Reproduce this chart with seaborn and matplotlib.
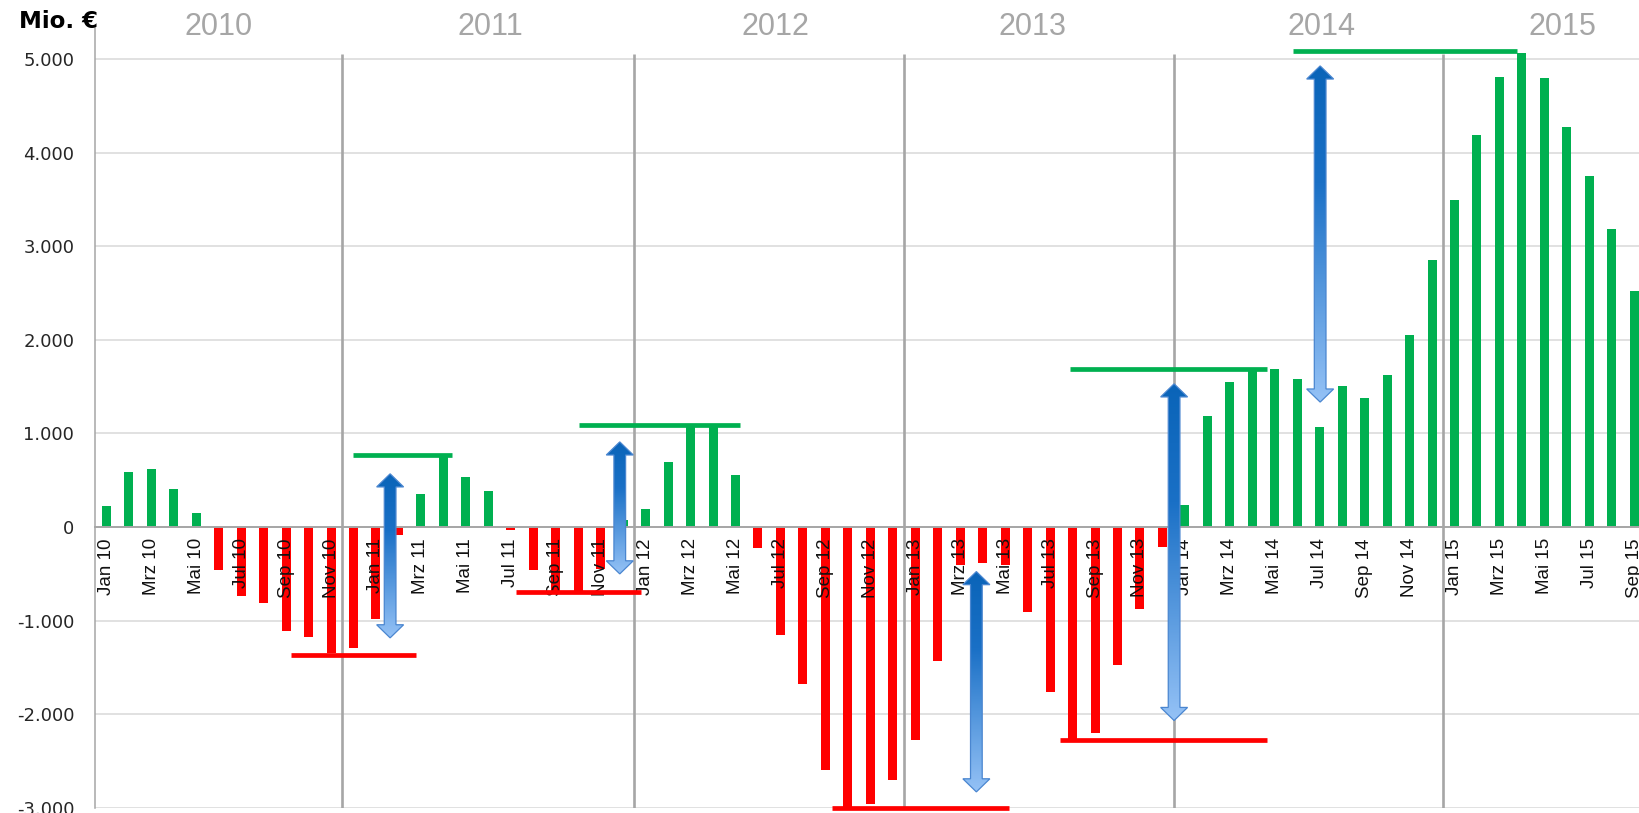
import numpy as np
import pandas as pd
import seaborn as sns
import matplotlib.pyplot as plt
from matplotlib.patches import Polygon
from matplotlib.colors import LinearSegmentedColormap

# monthly values, Mio. EUR, Jan 2010 - Sep 2015
monate = ['Jan', 'Feb', 'Mrz', 'Apr', 'Mai', 'Jun', 'Jul', 'Aug', 'Sep', 'Okt', 'Nov', 'Dez']
jahre = ['10', '11', '12', '13', '14', '15']
werte = [221, 585, 620, 406, 150, -463, -734, -806, -1112, -1169, -1345, -1287,
         -980, -82, 349, 760, 538, 388, -27, -455, -680, -690, -445, 75,
         191, 691, 1065, 1075, 561, -221, -1150, -1679, -2593, -2985, -2960, -2700,
         -2275, -1435, -410, -382, -400, -904, -1760, -2280, -2195, -1468, -875, -210,
         233, 1186, 1551, 1662, 1690, 1579, 1064, 1507, 1380, 1629, 2055, 2848,
         3496, 4183, 4803, 5064, 4792, 4277, 3751, 3180, 2521]
labels = [f'{m} {j}' for j in jahre for m in monate][:len(werte)]

ytick_werte = [-3000, -2000, -1000, 0, 1000, 2000, 3000, 4000, 5000]
ytick_labels = ['-3.000', '-2.000', '-1.000', '0', '1.000', '2.000', '3.000', '4.000', '5.000']

jahr_labels = ['2010', '2011', '2012', '2013', '2014', '2015']
jahr_label_x = [5.0, 17.1, 29.8, 41.2, 54.1, 64.8]
jahr_trenner = [10.5, 23.5, 35.5, 47.5, 59.5]

# hand drawn annotation: (start, end, level)
tief_linien = [(8.21, 13.8, -1365), (18.25, 23.78, -691), (32.3, 40.16, -3000), (42.43, 51.66, -2277)]
hoch_linien = [(10.97, 15.4, 774), (21.02, 28.21, 1093), (42.9, 51.66, 1684), (52.83, 62.78, 5080)]
# double arrows: (x, bottom, top)
pfeile = [(12.63, -1183, 569), (22.85, -500, 910), (38.72, -2828, -475),
          (47.52, -2066, 1530), (54.02, 1335, 4925)]

GRUEN = '#00b050'
ROT = '#ff0000'
GRAU = '#a6a6a6'

sns.set_style('white')
plt.rcParams['font.family'] = ['DejaVu Sans']

df = pd.DataFrame({'monat': labels, 'wert': werte})
df['vorzeichen'] = np.where(df['wert'] >= 0, 'pos', 'neg')

fig = plt.figure(figsize=(16.39, 8.13), dpi=100)
ax = fig.add_axes([95.1 / 1639, 5 / 813, 1 - 95.1 / 1639, 780 / 813])

sns.barplot(data=df, x='monat', y='wert', hue='vorzeichen', order=labels,
            palette={'pos': GRUEN, 'neg': ROT}, dodge=False, width=0.4,
            saturation=1, linewidth=0, errorbar=None, legend=False, ax=ax)

ax.set_xlabel('')
ax.set_ylabel('')
ax.grid(False)
ax.set_axisbelow(False)
for v in ytick_werte:
    ax.axhline(v, color='#d9d9d9', lw=1.1, zorder=0)

for s in ['top', 'right']:
    ax.spines[s].set_visible(False)
ax.spines['left'].set_color(GRAU)
ax.spines['left'].set_linewidth(1.1)
ax.spines['bottom'].set_position(('data', 0))
ax.spines['bottom'].set_color(GRAU)
ax.spines['bottom'].set_linewidth(1.4)

ax.set_xticks(range(0, len(werte), 2))
ax.set_xticklabels(labels[::2], rotation=90, fontsize=13.5, color='#111111',
                   family=['Liberation Sans Narrow', 'Liberation Sans'])
ax.set_xticks(np.arange(-0.5, len(werte), 1), minor=True)
ax.tick_params(axis='x', which='major', length=0, pad=8)
ax.tick_params(axis='x', which='minor', length=3, color=GRAU, width=1)

ax.set_yticks(ytick_werte)
ax.set_yticklabels(ytick_labels, fontsize=13, color='#262626')
ax.tick_params(axis='y', length=6, color='#bfbfbf', width=1, pad=9)

ax.vlines(jahr_trenner, -3000, 5050, color=GRAU, lw=1.9, zorder=3)
for x, t in zip(jahr_label_x, jahr_labels):
    ax.text(x, 5340, t, ha='center', va='center', fontsize=22, color=GRAU,
            family='Liberation Sans', clip_on=False)

for x0, x1, y in tief_linien:
    ax.plot([x0, x1], [y, y], color=ROT, lw=3.4, solid_capstyle='butt', zorder=4, clip_on=False)
for x0, x1, y in hoch_linien:
    ax.plot([x0, x1], [y, y], color=GRUEN, lw=3.4, solid_capstyle='butt', zorder=4, clip_on=False)

cmap = LinearSegmentedColormap.from_list('pfeil', [(0, '#0a64b8'), (0.35, '#1a70c6'), (1, '#95c2f6')])
gradient = np.linspace(0, 1, 256).reshape(-1, 1)
sw, hw, hl = 0.26, 0.6, 140
for x, y0, y1 in pfeile:
    verts = [(x, y1), (x + hw, y1 - hl), (x + sw, y1 - hl), (x + sw, y0 + hl),
             (x + hw, y0 + hl), (x, y0), (x - hw, y0 + hl), (x - sw, y0 + hl),
             (x - sw, y1 - hl), (x - hw, y1 - hl)]
    poly = Polygon(verts, closed=True, fc='none', ec='#4a86d0', lw=0.9, zorder=6)
    ax.add_patch(poly)
    im = ax.imshow(gradient, cmap=cmap, extent=[x - hw, x + hw, y0, y1],
                   aspect='auto', origin='upper', zorder=5)
    im.set_clip_path(poly)

ax.set_xlim(-0.5, 68.21)
ax.set_ylim(-3000, 5330)

fig.text(19 / 1639, 1 - 21.7 / 813, 'Mio. €', ha='left', va='center',
         fontsize=16.5, fontweight='bold', color='black')

fig.savefig('out.png', dpi=100)
